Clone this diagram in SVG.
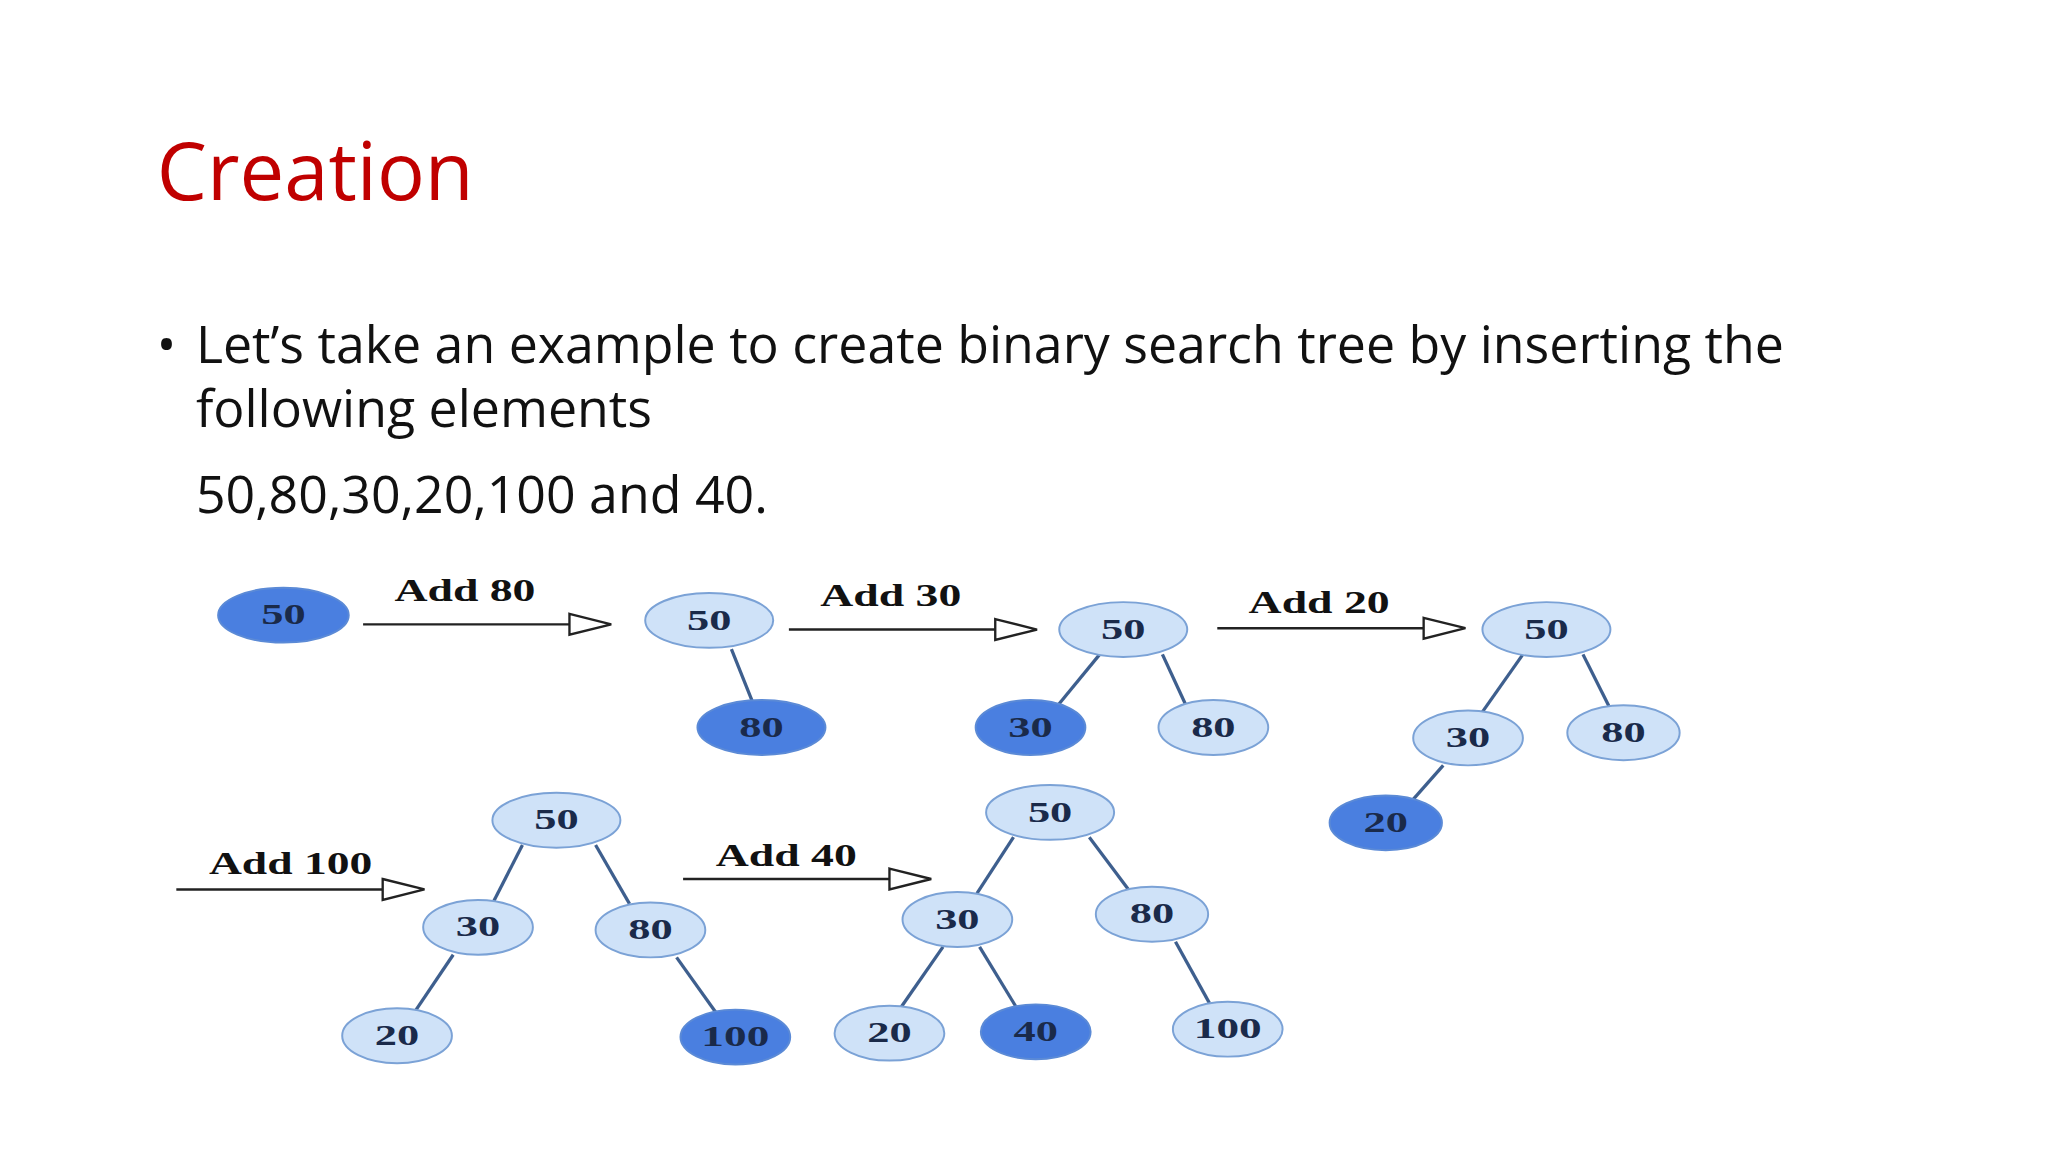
<svg xmlns="http://www.w3.org/2000/svg" width="2048" height="1152" viewBox="0 0 2048 1152">
<style>
.l{fill:#cfe2f8;stroke:#7ba2d6;stroke-width:1.5}
.d{fill:#4a7fe0;stroke:#5b8ad6;stroke-width:1.5}
.t{font-family:"Liberation Serif",serif;font-weight:bold;font-size:22px;fill:#1a2a4a;text-anchor:middle}
.e{stroke:#3e5f8e;stroke-width:2.5}
.a{stroke:#222;stroke-width:1.8;fill:none}
.h{fill:#fff;stroke:#222;stroke-width:1.8}
.al{font-family:"Liberation Serif",serif;font-weight:bold;font-size:24px;fill:#111}
</style>
<rect width="2048" height="1152" fill="#fff"/>
<g transform="scale(1.3061)">
<text x="120" y="153" font-family="Open Sans,Liberation Sans,sans-serif" font-size="61" fill="#c00000">Creation</text>
<g font-family="Open Sans,Liberation Sans,sans-serif" font-size="39.7" fill="#111">
<text x="120" y="278">•</text>
<text x="150" y="278">Let’s take an example to create binary search tree by inserting the</text>
<text x="150" y="327">following elements</text>
<text x="150" y="393">50,80,30,20,100 and 40.</text>
</g>
<g id="connectors">
<line class="e" x1="560" y1="497" x2="576" y2="537"/>
<line class="e" x1="842" y1="501" x2="810" y2="540"/>
<line class="e" x1="890" y1="501" x2="908" y2="540"/>
<line class="e" x1="1166" y1="501" x2="1135" y2="545"/>
<line class="e" x1="1212" y1="501" x2="1232" y2="541"/>
<line class="e" x1="1105" y1="586" x2="1082" y2="612"/>
<line class="e" x1="400" y1="647" x2="378" y2="690"/>
<line class="e" x1="456" y1="647" x2="482" y2="692"/>
<line class="e" x1="347" y1="731" x2="318" y2="774"/>
<line class="e" x1="518" y1="733" x2="548" y2="775"/>
<line class="e" x1="776" y1="641" x2="748" y2="684"/>
<line class="e" x1="834" y1="641" x2="864" y2="681"/>
<line class="e" x1="722" y1="725" x2="690" y2="771"/>
<line class="e" x1="750" y1="725" x2="778" y2="771"/>
<line class="e" x1="900" y1="721" x2="926" y2="768"/>
<path class="a" d="M278 478H440"/><path class="h" d="M436 470L468 478L436 486Z"/>
<path class="a" d="M604 482H766"/><path class="h" d="M762 474L794 482L762 490Z"/>
<path class="a" d="M932 481H1092"/><path class="h" d="M1090 473L1122 481L1090 489Z"/>
<path class="a" d="M135 681H295"/><path class="h" d="M293 673L325 681L293 689Z"/>
<path class="a" d="M523 673H683"/><path class="h" d="M681 665L713 673L681 681Z"/>
<text class="al" x="302" y="460" textLength="108" lengthAdjust="spacingAndGlyphs">Add 80</text>
<text class="al" x="628" y="464" textLength="108" lengthAdjust="spacingAndGlyphs">Add 30</text>
<text class="al" x="956" y="469" textLength="108" lengthAdjust="spacingAndGlyphs">Add 20</text>
<text class="al" x="160" y="669" textLength="125" lengthAdjust="spacingAndGlyphs">Add 100</text>
<text class="al" x="548" y="663" textLength="108" lengthAdjust="spacingAndGlyphs">Add 40</text>
</g>
<g id="t0"><ellipse class="d" cx="217" cy="471" rx="50" ry="21"/><text class="t" x="200" y="478" textLength="34" lengthAdjust="spacingAndGlyphs" text-anchor="start" style="text-anchor:start">50</text></g>
<g id="t1a"><ellipse class="l" cx="543" cy="475" rx="49" ry="21"/><text class="t" x="526" y="482" textLength="34" lengthAdjust="spacingAndGlyphs" style="text-anchor:start">50</text></g>
<g id="t1b"><ellipse class="d" cx="583" cy="557" rx="49" ry="21"/><text class="t" x="566" y="564" textLength="34" lengthAdjust="spacingAndGlyphs" style="text-anchor:start">80</text></g>
<g id="t2a"><ellipse class="l" cx="860" cy="482" rx="49" ry="21"/><text class="t" x="843" y="489" textLength="34" lengthAdjust="spacingAndGlyphs" style="text-anchor:start">50</text></g>
<g id="t2b"><ellipse class="d" cx="789" cy="557" rx="42" ry="21"/><text class="t" x="772" y="564" textLength="34" lengthAdjust="spacingAndGlyphs" style="text-anchor:start">30</text></g>
<g id="t2c"><ellipse class="l" cx="929" cy="557" rx="42" ry="21"/><text class="t" x="912" y="564" textLength="34" lengthAdjust="spacingAndGlyphs" style="text-anchor:start">80</text></g>
<g id="t3a"><ellipse class="l" cx="1184" cy="482" rx="49" ry="21"/><text class="t" x="1167" y="489" textLength="34" lengthAdjust="spacingAndGlyphs" style="text-anchor:start">50</text></g>
<g id="t3b"><ellipse class="l" cx="1124" cy="565" rx="42" ry="21"/><text class="t" x="1107" y="572" textLength="34" lengthAdjust="spacingAndGlyphs" style="text-anchor:start">30</text></g>
<g id="t3c"><ellipse class="l" cx="1243" cy="561" rx="43" ry="21"/><text class="t" x="1226" y="568" textLength="34" lengthAdjust="spacingAndGlyphs" style="text-anchor:start">80</text></g>
<g id="t3d"><ellipse class="d" cx="1061" cy="630" rx="43" ry="21"/><text class="t" x="1044" y="637" textLength="34" lengthAdjust="spacingAndGlyphs" style="text-anchor:start">20</text></g>
<g id="t4a"><ellipse class="l" cx="426" cy="628" rx="49" ry="21"/><text class="t" x="409" y="635" textLength="34" lengthAdjust="spacingAndGlyphs" style="text-anchor:start">50</text></g>
<g id="t4b"><ellipse class="l" cx="366" cy="710" rx="42" ry="21"/><text class="t" x="349" y="717" textLength="34" lengthAdjust="spacingAndGlyphs" style="text-anchor:start">30</text></g>
<g id="t4c"><ellipse class="l" cx="498" cy="712" rx="42" ry="21"/><text class="t" x="481" y="719" textLength="34" lengthAdjust="spacingAndGlyphs" style="text-anchor:start">80</text></g>
<g id="t4d"><ellipse class="l" cx="304" cy="793" rx="42" ry="21"/><text class="t" x="287" y="800" textLength="34" lengthAdjust="spacingAndGlyphs" style="text-anchor:start">20</text></g>
<g id="t4e"><ellipse class="d" cx="563" cy="794" rx="42" ry="21"/><text class="t" x="537" y="801" textLength="52" lengthAdjust="spacingAndGlyphs" style="text-anchor:start">100</text></g>
<g id="t5a"><ellipse class="l" cx="804" cy="622" rx="49" ry="21"/><text class="t" x="787" y="629" textLength="34" lengthAdjust="spacingAndGlyphs" style="text-anchor:start">50</text></g>
<g id="t5b"><ellipse class="l" cx="733" cy="704" rx="42" ry="21"/><text class="t" x="716" y="711" textLength="34" lengthAdjust="spacingAndGlyphs" style="text-anchor:start">30</text></g>
<g id="t5c"><ellipse class="l" cx="882" cy="700" rx="43" ry="21"/><text class="t" x="865" y="707" textLength="34" lengthAdjust="spacingAndGlyphs" style="text-anchor:start">80</text></g>
<g id="t5d"><ellipse class="l" cx="681" cy="791" rx="42" ry="21"/><text class="t" x="664" y="798" textLength="34" lengthAdjust="spacingAndGlyphs" style="text-anchor:start">20</text></g>
<g id="t5e"><ellipse class="d" cx="793" cy="790" rx="42" ry="21"/><text class="t" x="776" y="797" textLength="34" lengthAdjust="spacingAndGlyphs" style="text-anchor:start">40</text></g>
<g id="t5f"><ellipse class="l" cx="940" cy="788" rx="42" ry="21"/><text class="t" x="914" y="795" textLength="52" lengthAdjust="spacingAndGlyphs" style="text-anchor:start">100</text></g>
</g>
</svg>
